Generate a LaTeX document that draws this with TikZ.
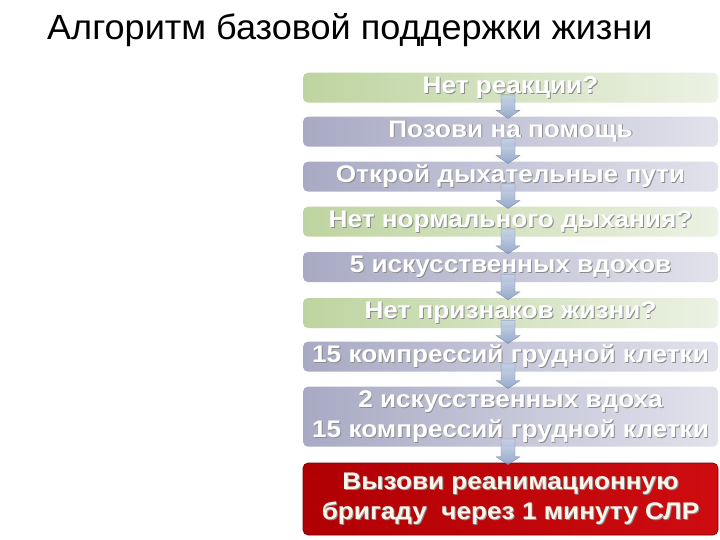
\documentclass[tikz,border=0pt]{standalone}
\usepackage{fontspec}
\usepackage{graphicx}
\setmainfont{Liberation Sans}
\usetikzlibrary{calc}
\definecolor{gL}{RGB}{190,212,160}
\definecolor{gR}{RGB}{236,242,228}
\definecolor{bL}{RGB}{168,170,196}
\definecolor{bR}{RGB}{226,226,236}
\definecolor{rL}{RGB}{176,0,4}
\definecolor{rR}{RGB}{206,12,16}
\definecolor{arT}{RGB}{196,210,232}
\definecolor{arB}{RGB}{132,154,192}
\newcommand\sht[1]{\scalebox{1.09}[1]{\leavevmode\rlap{\kern0.9pt\raisebox{-0.9pt}{\textcolor{black!45}{#1}}}#1}}
\newcommand\blockarr[2]{%
  \path[arrowfill] let \p1=($(#1.south)+(-2.5,-8)$), \p2=($(#2.north)+(-2.5,2)$) in
    (\x1-7pt,\y1) -- (\x1+7pt,\y1) -- (\x1+7pt,\y2+8pt) -- (\x1+12pt,\y2+8pt)
    -- (\x1,\y2) -- (\x1-12pt,\y2+8pt) -- (\x1-7pt,\y2+8pt) -- cycle;}
\begin{document}
\begin{tikzpicture}[x=1pt,y=-1pt,
  box/.style={rounded corners=5pt, minimum width=415pt, inner sep=0pt,
    text=white, align=center, font=\fontsize{24}{30}\selectfont\bfseries},
  greenbox/.style={box, minimum height=30pt, left color=gL, right color=gR},
  bluebox/.style={box, minimum height=30pt, left color=bL, right color=bR},
  redbox/.style={box, minimum height=72pt, left color=rL, right color=rR,
    draw=rL!70!black, line width=0.6pt, text={rgb,255:red,255;green,246;blue,236}},
  arrowfill/.style={top color=arT, bottom color=arB, draw=arB!80!black, line width=0.3pt, opacity=0.85},
  title/.style={anchor=base west, inner sep=0pt, font=\fontsize{35}{40}\selectfont}]
\useasboundingbox (0,0) rectangle (720,540);
\fill[white] (0,0) rectangle (720,540);
\node[title] (t) at (47,40) {\scalebox{1.03}[1]{Алгоритм базовой поддержки жизни}};
\node[greenbox] (b1) at (510.5,87.7) {\sht{Нет реакции?}};
\node[bluebox] (b2) at (510.5,131.6) {\sht{Позови на помощь}};
\node[bluebox] (b3) at (510.5,176.7) {\sht{Открой дыхательные пути}};
\node[greenbox] (b4) at (510.5,221.7) {\sht{Нет нормального дыхания?}};
\node[bluebox] (b5) at (510.5,267) {\sht{5 искусственных вдохов}};
\node[greenbox] (b6) at (510.5,313) {\sht{Нет признаков жизни?}};
\node[bluebox] (b7) at (510.5,356.7) {\sht{15 компрессий грудной клетки}};
\node[bluebox, minimum height=60pt] (b8) at (510.5,416.7) {\sht{2 искусственных вдоха}\\\sht{15 компрессий грудной клетки}};
\node[redbox] (b9) at (510.5,499) {\sht{Вызови реанимационную}\\\sht{бригаду\ \ через 1 минуту СЛР}};
\blockarr{b1}{b2}
\blockarr{b2}{b3}
\blockarr{b3}{b4}
\blockarr{b4}{b5}
\blockarr{b5}{b6}
\blockarr{b6}{b7}
\blockarr{b7}{b8}
\blockarr{b8}{b9}
\end{tikzpicture}
\end{document}
